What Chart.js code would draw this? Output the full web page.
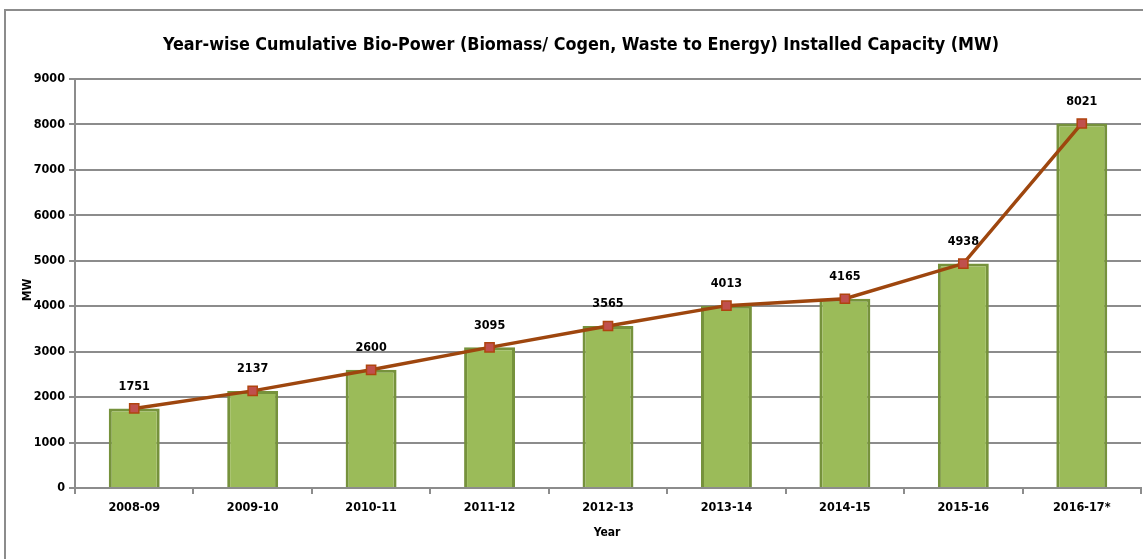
<!DOCTYPE html>
<html>
<head>
<meta charset="utf-8">
<script src="https://cdn.jsdelivr.net/npm/chart.js@4/dist/chart.umd.min.js"></script>
<style>
html,body{margin:0;padding:0;background:#fff;overflow:hidden;}
#wrap{position:relative;width:1143px;height:559px;}
</style>
</head>
<body>
<div id="wrap"><canvas id="c" width="1143" height="559"></canvas></div>
<script>
const categories = ["2008-09","2009-10","2010-11","2011-12","2012-13","2013-14","2014-15","2015-16","2016-17*"];
const capacityMW = [1751,2137,2600,3095,3565,4013,4165,4938,8021];
const yTicks = [0,1000,2000,3000,4000,5000,6000,7000,8000,9000];
const titleText = "Year-wise Cumulative Bio-Power (Biomass/ Cogen, Waste to Energy) Installed Capacity (MW)";
const yTitle = "MW";
const xTitle = "Year";

const FONT = "'Liberation Sans Narrow','DejaVu Sans Condensed','Liberation Sans',sans-serif";

const deco = {
  id: 'deco',
  beforeDraw(chart){
    const ctx = chart.ctx;
    ctx.save();
    ctx.fillStyle = '#fff';
    ctx.fillRect(0,0,chart.width,chart.height);
    ctx.strokeStyle = '#8c8c8c';
    ctx.lineWidth = 2;
    ctx.beginPath();
    ctx.moveTo(5, 600); ctx.lineTo(5, 10); ctx.lineTo(1200, 10);
    ctx.stroke();
    ctx.restore();
  },
  afterDraw(chart){
    const ctx = chart.ctx;
    const x = chart.scales.x, y = chart.scales.y;
    ctx.save();
    ctx.fillStyle = '#000';
    ctx.textAlign = 'center';
    ctx.textBaseline = 'middle';
    ctx.font = "bold 22px " + FONT;
    let w = ctx.measureText(titleText).width;
    const target = 837;
    const fs = 22 * target / w;
    ctx.font = "bold " + fs.toFixed(2) + "px " + FONT;
    ctx.fillText(titleText, 581, 45);
    ctx.font = "bold 12px " + FONT;
    ctx.fillText(xTitle, 607, 533);
    ctx.save();
    ctx.translate(28, 290);
    ctx.rotate(-Math.PI/2);
    ctx.fillText(yTitle, 0, 0);
    ctx.restore();
    ctx.font = "bold 12.5px " + FONT;
    capacityMW.forEach((v,i)=>{
      const px = x.getPixelForValue(i);
      const py = y.getPixelForValue(v);
      ctx.fillText(String(v), px, py - 22);
    });
    ctx.restore();
  }
};

new Chart(document.getElementById('c'), {
  data: {
    labels: categories,
    datasets: [
      {
        type: 'line',
        data: capacityMW,
        order: 0,
        borderColor: '#9E460E',
        borderWidth: 3.5,
        pointStyle: 'rect',
        pointRadius: 6.5,
        pointBackgroundColor: '#C0504D',
        pointBorderColor: '#B0440F',
        pointBorderWidth: 1.5,
        tension: 0,
        fill: false,
        clip: false
      },
      {
        type: 'bar',
        data: capacityMW,
        order: 1,
        backgroundColor: '#9BBB59',
        borderColor: '#76923C',
        borderWidth: 3,
        categoryPercentage: 1,
        barPercentage: 0.43
      }
    ]
  },
  plugins: [deco],
  options: {
    responsive: false,
    animation: false,
    layout: { autoPadding: false, padding: { left: 0, right: 2, top: 79, bottom: 0 } },
    plugins: { legend: {display:false}, tooltip: {enabled:false}, title:{display:false} },
    scales: {
      x: {
        offset: true,
        grid: { display: true, drawOnChartArea: false, drawTicks: true, tickLength: 6, color: '#8c8c8c', lineWidth: 2, offset: true },
        border: { display: true, color: '#8c8c8c', width: 2 },
        ticks: { color: '#000', font: { family: FONT, weight: 'bold', size: 12.5 }, padding: 6, maxRotation: 0, autoSkip: false },
        afterFit(s){ s.height = 559 - 488; }
      },
      y: {
        min: 0, max: 9000,
        afterBuildTicks(s){ s.ticks = yTicks.map(v=>({value:v})); },
        grid: { color: '#8c8c8c', lineWidth: 2, tickLength: 6, drawTicks: true },
        border: { display: true, color: '#8c8c8c', width: 2 },
        ticks: { color: '#000', font: { family: FONT, weight: 'bold', size: 12.5 }, padding: 4, callback: (v)=>String(v) },
        afterFit(s){ s.width = 75; }
      }
    }
  }
});
</script>
</body>
</html>
